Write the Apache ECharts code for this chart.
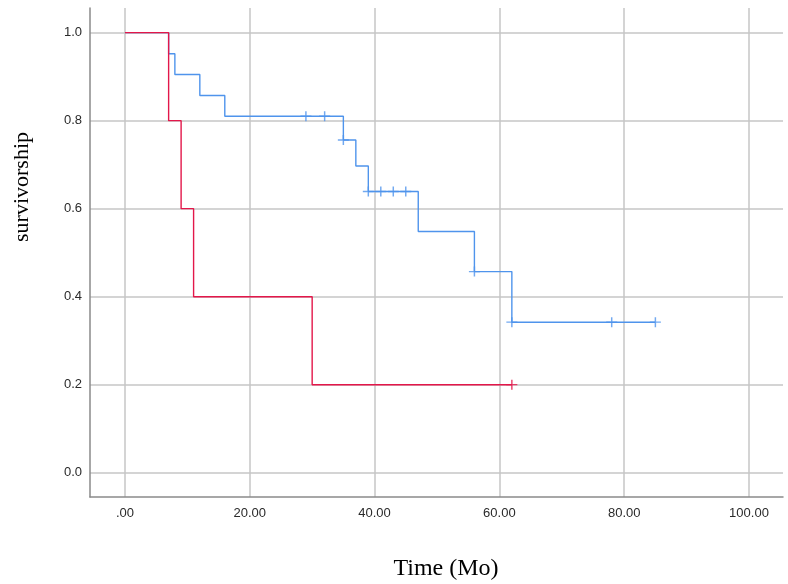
<!DOCTYPE html>
<html>
<head>
<meta charset="utf-8">
<script src="https://cdn.jsdelivr.net/npm/echarts@6/dist/echarts.min.js"></script>
<style>html,body{margin:0;padding:0;background:#fff}#c{width:788px;height:584px}</style>
</head>
<body>
<div id="c"></div>
<script>
// Group A (blue) step curve: time (months) and survival
const blueTimes = [0, 7, 8, 12, 16, 35, 37, 39, 47, 56, 62, 85];
const blueSurv  = [1.0, 0.952, 0.905, 0.857, 0.810, 0.756, 0.697, 0.639, 0.548, 0.457, 0.342, 0.342];
// Group A censored observations
const blueCensorTimes = [29, 32, 35, 39, 41, 43, 45, 56, 62, 78, 85];
const blueCensorSurv  = [0.810, 0.810, 0.756, 0.639, 0.639, 0.639, 0.639, 0.457, 0.342, 0.342, 0.342];
// Group B (red) step curve
const redTimes = [0, 7, 9, 11, 30, 62];
const redSurv  = [1.0, 0.8, 0.6, 0.4, 0.2, 0.2];
const redCensorTimes = [62];
const redCensorSurv  = [0.2];
// Tick labels
const xTicks = [0, 20, 40, 60, 80, 100];
const yTicks = [0, 0.2, 0.4, 0.6, 0.8, 1.0];

const BLUE = '#4f94ec', RED = '#e3174a';
const zip = (a, b) => a.map((v, i) => [v, b[i]]);
const plus = 'path://M0,-5 L0,5 M-5,0 L5,0';

const chart = echarts.init(document.getElementById('c'), null, {renderer: 'canvas'});
chart.setOption({
  animation: false,
  backgroundColor: '#fff',
  grid: {left: 90, right: 5, top: 8, bottom: 87, containLabel: false},
  xAxis: {
    type: 'value', min: -5.6, max: 105.45,
    axisLine: {show: true, onZero: false, lineStyle: {color: '#8a8a8a', width: 1.5}},
    axisTick: {show: false, customValues: xTicks},
    axisLabel: {customValues: xTicks, color: '#2a2a2a', fontFamily: 'Liberation Sans, Arial, sans-serif', fontSize: 13, margin: 10,
      formatter: v => v === 0 ? '.00' : v.toFixed(2)},
    splitLine: {show: true, lineStyle: {color: '#c6c6c6', width: 1.5}}
  },
  yAxis: {
    type: 'value', min: -0.0552, max: 1.056,
    axisLine: {show: true, onZero: false, lineStyle: {color: '#8a8a8a', width: 1.5}},
    axisTick: {show: false, customValues: yTicks},
    axisLabel: {customValues: yTicks, color: '#2a2a2a', fontFamily: 'Liberation Sans, Arial, sans-serif', fontSize: 13, margin: 8,
      formatter: v => v.toFixed(1)},
    splitLine: {show: true, lineStyle: {color: '#c6c6c6', width: 1.5}}
  },
  graphic: [
    {type: 'text', x: 22, y: 187, rotation: Math.PI / 2,
      style: {text: 'survivorship', font: '22px "Liberation Serif", "Times New Roman", serif', fill: '#000', align: 'center', verticalAlign: 'middle'}},
    {type: 'text', x: 446, y: 569,
      style: {text: 'Time (Mo)', font: '24px "Liberation Serif", "Times New Roman", serif', fill: '#000', align: 'center', verticalAlign: 'middle'}}
  ],
  series: [
    {type: 'line', step: 'end', data: zip(blueTimes, blueSurv), showSymbol: false, lineStyle: {color: BLUE, width: 1.4}, z: 2},
    {type: 'scatter', data: zip(blueCensorTimes, blueCensorSurv), symbol: plus, symbolSize: [11, 10],
      itemStyle: {color: 'none', borderColor: BLUE, borderWidth: 1.4}, z: 3},
    {type: 'line', step: 'end', data: zip(redTimes, redSurv), showSymbol: false, lineStyle: {color: RED, width: 1.4}, z: 4},
    {type: 'scatter', data: zip(redCensorTimes, redCensorSurv), symbol: plus, symbolSize: [11, 10],
      itemStyle: {color: 'none', borderColor: RED, borderWidth: 1.4}, z: 5}
  ]
});
</script>
</body>
</html>
